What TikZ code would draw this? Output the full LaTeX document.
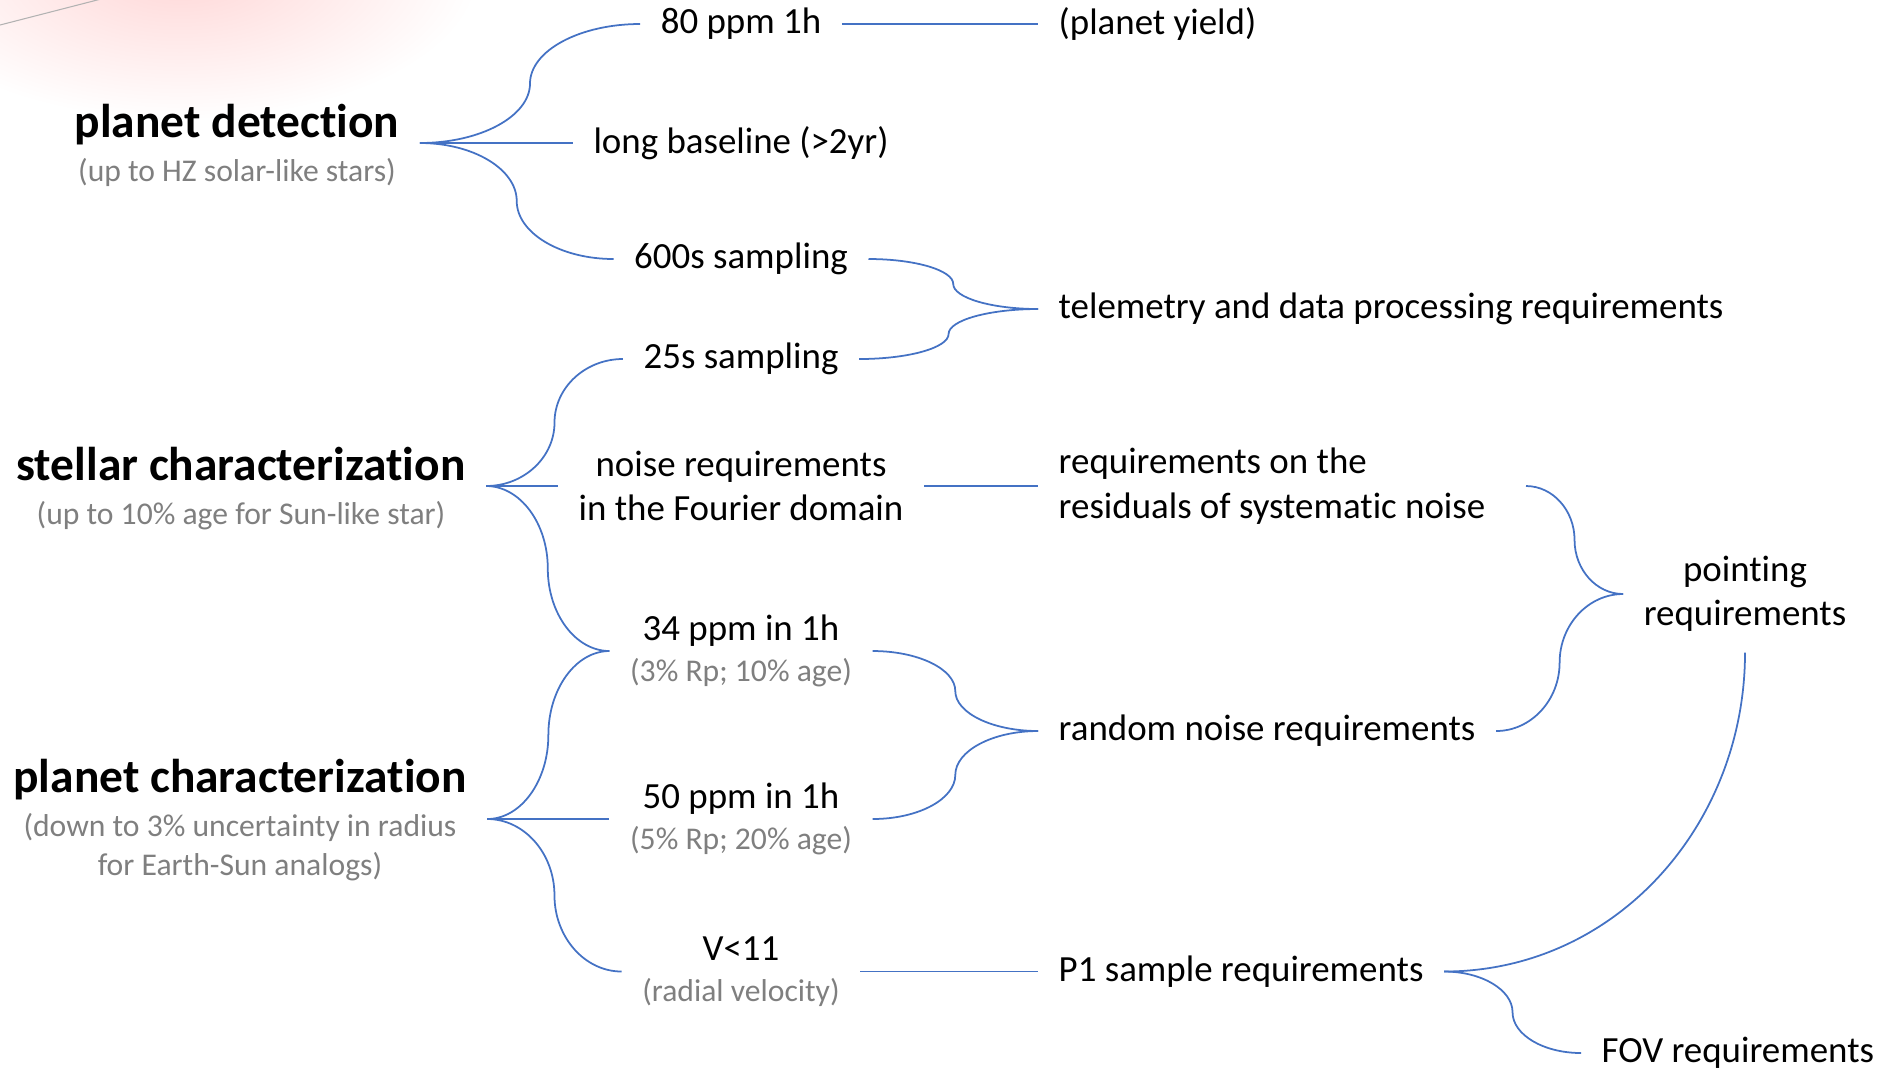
\documentclass[tikz,border=0pt]{standalone}
\usepackage{fontspec}
\setmainfont[Ligatures={NoCommon}]{Carlito}
\usetikzlibrary{positioning, calc}
\definecolor{linkblue}{RGB}{68,114,196}
\definecolor{notegray}{RGB}{127,127,127}
\newcommand{\subnote}[1]{{\color{notegray}\fontsize{9}{10.9}\selectfont #1}}
\newcommand{\headline}[1]{{\fontsize{13.5}{16}\selectfont\bfseries #1}}
\tikzstyle{head} = [align=center, inner sep=0.2cm, font=\fontsize{9}{10.9}\selectfont]
\tikzstyle{item} = [align=center, inner sep=0.2cm, font=\fontsize{10.5}{12.6}\selectfont]
\tikzstyle{req} = [item, align=left, anchor=west]
\tikzstyle{link} = [draw=linkblue, line width=0.5pt]
\tikzstyle{brace} = [link, to path={let \p1=(\tikztostart), \p2=(\tikztotarget) in
  .. controls ({0.725*\x1+0.275*\x2},\y1) and ({0.5*\x1+0.5*\x2},{0.775*\y1+0.225*\y2})
  .. ({0.5*\x1+0.5*\x2},{0.5*\y1+0.5*\y2})
  .. controls ({0.5*\x1+0.5*\x2},{0.225*\y1+0.775*\y2}) and ({0.275*\x1+0.725*\x2},\y2)
  .. (\x2,\y2)}]

\begin{document}
\begin{tikzpicture}[node distance=1cm]
\useasboundingbox (0,0) rectangle (18.83,-10.73);

% slide background left over in the corner
\shade[inner color=red!16, outer color=white] (1.8,0.3) ellipse (3 and 1.5);
\draw[gray!60, line width=0.3pt] (0,-0.25) -- (1.05,0.02);

% science goals
\node (pd) [head] at (2.37,-1.455) {\headline{planet detection}\\[1.6pt]\subnote{(up to HZ solar-like stars)}};
\node (sc) [head] at (2.41,-4.885) {\headline{stellar characterization}\\[1.6pt]\subnote{(up to 10\% age for Sun-like star)}};
\node (pc) [head] at (2.40,-8.2) {\headline{planet characterization}\\[1.6pt]\subnote{(down to 3\% uncertainty in radius}\\\subnote{for Earth-Sun analogs)}};

% first level requirements
\node (p80) [item] at (7.41,-0.24) {80 ppm 1h};
\node (base) [item, below of=p80, yshift=-0.19cm] {long baseline (>2yr)};
\node (s600) [item, below of=base, yshift=-0.16cm] {600s sampling};
\node (s25) [item, below of=s600] {25s sampling};
\node (noise) [item, below of=s25, yshift=-0.27cm] {noise requirements\\in the Fourier domain};
\node (ppm34) [item, below of=noise, yshift=-0.65cm] {34 ppm in 1h\\[-1.1pt]\subnote{(3\% Rp; 10\% age)}};
\node (ppm50) [item, below of=ppm34, yshift=-0.68cm] {50 ppm in 1h\\[-1.1pt]\subnote{(5\% Rp; 20\% age)}};
\node (vmag) [item, below of=ppm50, yshift=-0.525cm] {V<11\\[-1.1pt]\subnote{(radial velocity)}};

% derived requirements
\coordinate (rcol) at (10.38,0);
\node (yield) [req] at (p80 -| rcol) {(planet yield)};
\node (telem) [req] at (10.38,-3.09) {telemetry and data processing requirements};
\node (resid) [req] at (noise -| rcol) {requirements on the\\residuals of systematic noise};
\node (rnoise) [req] at (10.38,-7.31) {random noise requirements};
\node (p1) [req] at (vmag -| rcol) {P1 sample requirements};
\node (point) [item] at (17.45,-5.94) {pointing\\requirements};
\node (fov) [req] at (15.81,-10.53) {FOV requirements};

\coordinate (pdfork) at (pd.east |- base.west);
\coordinate (scfork) at (sc.east |- noise.west);
\coordinate (pcfork) at (pc.east |- ppm50.west);

\draw [brace] (pdfork) to (p80.west);
\draw [link] (pdfork) -- (base.west);
\draw [brace] (pdfork) to (s600.west);

\draw [brace] (scfork) to (s25.west);
\draw [link] (scfork) -- (noise.west);
\draw [brace] (scfork) to (ppm34.west);

\draw [brace] (pcfork) to (ppm34.west);
\draw [link] (pcfork) -- (ppm50.west);
\draw [brace] (pcfork) to (vmag.west);

\draw [link] (p80.east) -- (yield.west);
\draw [brace] (s600.east) to (telem.west);
\draw [brace] (s25.east) to (telem.west);
\draw [link] (noise.east) -- (resid.west);
\draw [brace] (ppm34.east) to (rnoise.west);
\draw [brace] (ppm50.east) to (rnoise.west);
\draw [link] (vmag.east) -- (p1.west);

\draw [brace] ([xshift=0.2cm]resid.east) to (point.west);
\draw [brace] (rnoise.east) to (point.west);
\draw [link] (point.south) to[out=-90, in=0] (p1.east);
\draw [brace] (p1.east) to (fov.west);

\end{tikzpicture}
\end{document}
